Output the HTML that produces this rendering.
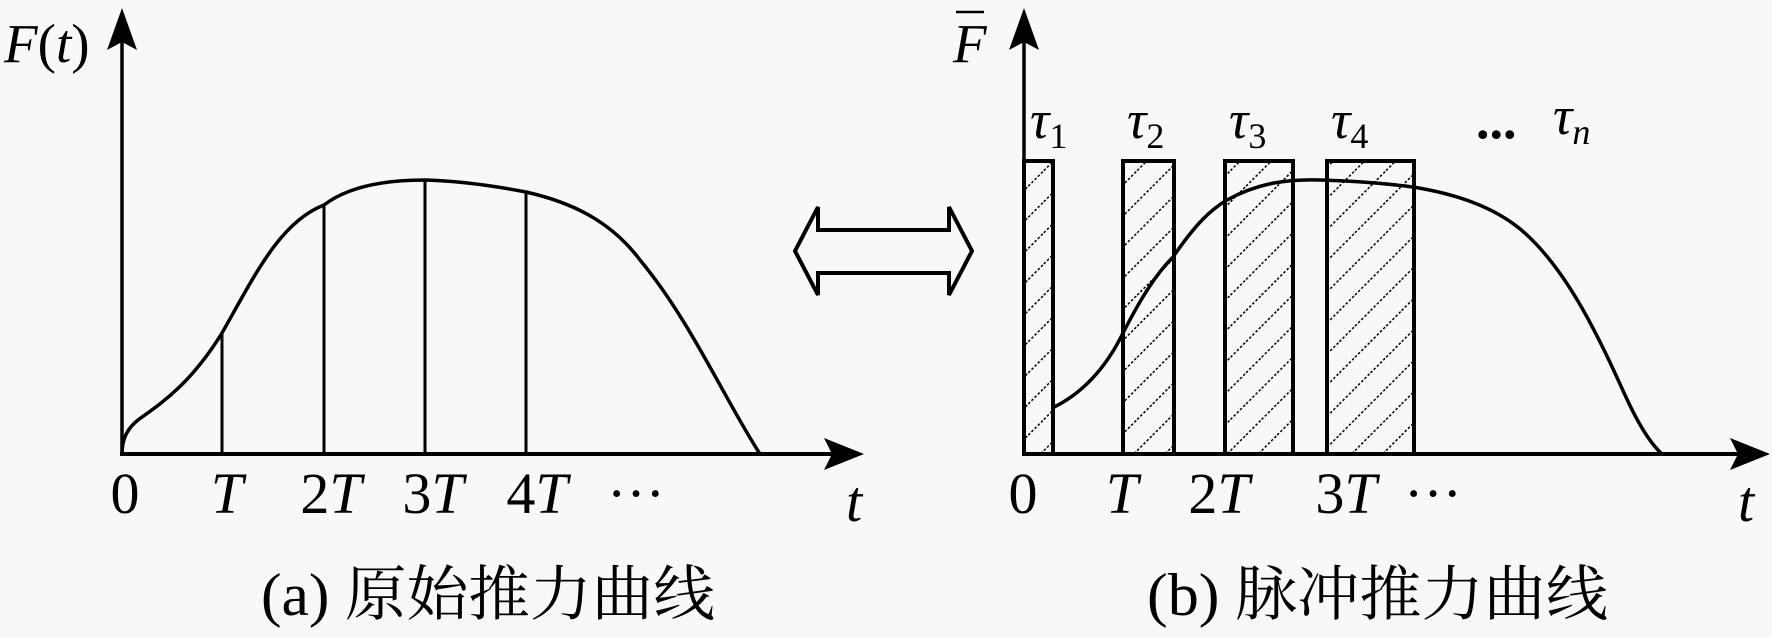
<!DOCTYPE html>
<html><head><meta charset="utf-8"><style>
html,body{margin:0;padding:0;background:#f8f8f8;}
svg{display:block;}
text{font-family:"Liberation Serif","Noto Serif CJK SC",serif;fill:#000;}
.it{font-style:italic;}
</style></head><body>
<svg width="1772" height="638" viewBox="0 0 1772 638" xmlns="http://www.w3.org/2000/svg">
<defs>
<pattern id="h" patternUnits="userSpaceOnUse" width="22" height="22" patternTransform="rotate(45)">
<line x1="0" y1="0" x2="0" y2="22" stroke="#000" stroke-width="3" stroke-dasharray="2.5 2"/>
</pattern>
</defs>
<rect width="1772" height="638" fill="#f8f8f8"/>
<!-- Left panel -->
<line x1="122" y1="454" x2="122" y2="40" stroke="#000" stroke-width="3.5"/>
<polygon points="122,8 107,50 122,42 137,50" fill="#000"/>
<line x1="120" y1="454" x2="835" y2="454" stroke="#000" stroke-width="4"/>
<polygon points="864,454 824,438 832,454 824,470" fill="#000"/>
<g stroke="#000" stroke-width="3">
<line x1="222" y1="454" x2="222" y2="333"/>
<line x1="324" y1="454" x2="324" y2="205"/>
<line x1="425" y1="454" x2="425" y2="180"/>
<line x1="526" y1="454" x2="526" y2="192"/>
</g>
<path d="M122,454 C122,438 128,428 138,420 C160,404 190,385 222,333 C255,275 280,222 324,205 C350,185 390,180 425,180 C460,181 495,186 526,192 C570,202 610,220 640,260 C690,320 725,400 760,454" fill="none" stroke="#000" stroke-width="3.5"/>
<text x="4" y="62" font-size="55"><tspan class="it">F</tspan>(<tspan class="it">t</tspan>)</text>
<g font-size="58" text-anchor="middle">
<text x="125" y="513">0</text>
<text x="227" y="513" class="it">T</text>
<text x="331" y="513">2<tspan class="it">T</tspan></text>
<text x="433" y="513">3<tspan class="it">T</tspan></text>
<text x="537" y="513">4<tspan class="it">T</tspan></text>
<text x="636" y="513">···</text>
<text x="854" y="521" class="it">t</text>
</g>
<text x="261" y="615" font-size="60" textLength="454" lengthAdjust="spacingAndGlyphs">(a) 原始推力曲线</text>
<!-- Double arrow -->
<path d="M818,230 L949,230 L949,207 L972,251 L949,295 L949,273 L818,273 L818,295 L795,251 L818,207 Z" fill="#f8f8f8" stroke="#000" stroke-width="4" stroke-linejoin="miter"/>
<!-- Right panel -->
<line x1="1024" y1="454" x2="1024" y2="40" stroke="#000" stroke-width="3.5"/>
<polygon points="1024,8 1009,50 1024,42 1039,50" fill="#000"/>
<g fill="url(#h)" stroke="#000" stroke-width="4">
<rect x="1024" y="161" width="29" height="293"/>
<rect x="1123" y="161" width="51" height="293"/>
<rect x="1225" y="161" width="68" height="293"/>
<rect x="1327" y="161" width="87" height="293"/>
</g>
<line x1="1022" y1="454" x2="1740" y2="454" stroke="#000" stroke-width="4"/>
<polygon points="1770,454 1730,438 1738,454 1730,470" fill="#000"/>
<path d="M1052,408 C1080,395 1105,370 1123,333 C1140,300 1155,275 1173,257 C1195,225 1210,210 1227,200 C1260,182 1290,179 1320,180 C1360,181 1390,184 1413,187 C1450,193 1495,205 1527,235 C1570,275 1600,340 1625,395 C1640,428 1652,445 1662,454" fill="none" stroke="#000" stroke-width="3.5"/>
<text x="953" y="62" font-size="55" class="it">F</text>
<line x1="956" y1="12" x2="984" y2="12" stroke="#000" stroke-width="2.5"/>
<g font-size="54">
<text x="1030" y="138" class="it">τ<tspan font-size="36" dy="10" font-style="normal">1</tspan></text>
<text x="1127" y="138" class="it">τ<tspan font-size="36" dy="10" font-style="normal">2</tspan></text>
<text x="1229" y="138" class="it">τ<tspan font-size="36" dy="10" font-style="normal">3</tspan></text>
<text x="1331" y="138" class="it">τ<tspan font-size="36" dy="10" font-style="normal">4</tspan></text>
<text x="1476" y="138" font-weight="bold">...</text>
<text x="1553" y="134" class="it">τ<tspan font-size="36" dy="10">n</tspan></text>
</g>
<g font-size="58" text-anchor="middle">
<text x="1023" y="513">0</text>
<text x="1122" y="513" class="it">T</text>
<text x="1219" y="513">2<tspan class="it">T</tspan></text>
<text x="1346" y="513">3<tspan class="it">T</tspan></text>
<text x="1433" y="513">···</text>
<text x="1746" y="521" class="it">t</text>
</g>
<text x="1147" y="615" font-size="60" textLength="461" lengthAdjust="spacingAndGlyphs">(b) 脉冲推力曲线</text>
</svg>
</body></html>
